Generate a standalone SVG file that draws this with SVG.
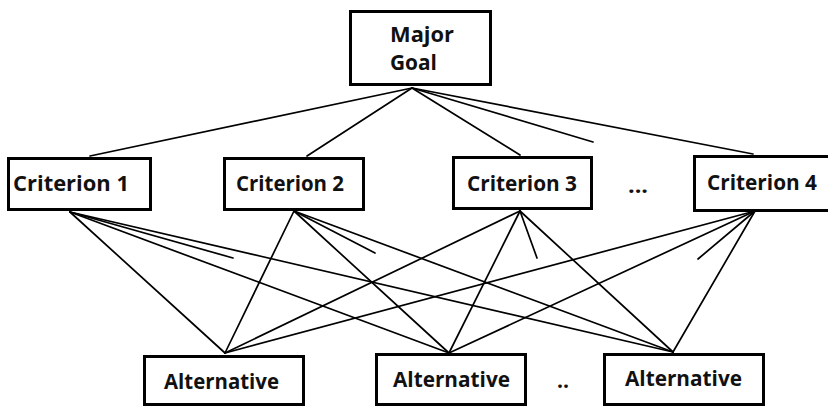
<svg xmlns="http://www.w3.org/2000/svg" width="828" height="407" viewBox="0 0 828 407">
  <style>
    .box { fill: #ffffff; stroke: #000000; stroke-width: 3; }
    .lbl { font-family: "Open Sans", "Liberation Sans", Arial, sans-serif; font-weight: bold; font-size: 21px; fill: #111111; }
    .edge { stroke: #000000; stroke-width: 1.7; fill: none; stroke-linecap: round; }
  </style>
  <rect width="828" height="407" fill="#ffffff"/>

  <!-- connectors -->
  <g id="connectors">
    <!-- goal to criteria -->
    <line class="edge" x1="412" y1="88" x2="90" y2="156"/>
    <line class="edge" x1="412" y1="88" x2="307" y2="156"/>
    <line class="edge" x1="412" y1="88" x2="520" y2="155"/>
    <line class="edge" x1="412" y1="88" x2="593" y2="142"/>
    <line class="edge" x1="412" y1="88" x2="753" y2="154"/>
    <!-- criterion 1 -->
    <line class="edge" x1="70" y1="212" x2="225" y2="353"/>
    <line class="edge" x1="70" y1="212" x2="233" y2="258"/>
    <line class="edge" x1="70" y1="212" x2="449" y2="353"/>
    <line class="edge" x1="70" y1="212" x2="673" y2="352"/>
    <!-- criterion 2 -->
    <line class="edge" x1="294" y1="211" x2="225" y2="353"/>
    <line class="edge" x1="294" y1="211" x2="449" y2="353"/>
    <line class="edge" x1="294" y1="211" x2="375" y2="253"/>
    <line class="edge" x1="294" y1="211" x2="673" y2="352"/>
    <!-- criterion 3 -->
    <line class="edge" x1="520" y1="211" x2="225" y2="353"/>
    <line class="edge" x1="520" y1="211" x2="449" y2="353"/>
    <line class="edge" x1="520" y1="211" x2="537" y2="258"/>
    <line class="edge" x1="520" y1="211" x2="673" y2="352"/>
    <!-- criterion 4 -->
    <line class="edge" x1="755" y1="211" x2="225" y2="353"/>
    <line class="edge" x1="755" y1="211" x2="449" y2="353"/>
    <line class="edge" x1="755" y1="211" x2="698" y2="259"/>
    <line class="edge" x1="755" y1="211" x2="673" y2="352"/>
  </g>

  <g id="goal">
    <rect class="box" x="350.5" y="11.5" width="140" height="73"/>
    <text class="lbl" x="390" y="42" textLength="64" lengthAdjust="spacingAndGlyphs">Major</text>
    <text class="lbl" x="390" y="70" textLength="47" lengthAdjust="spacingAndGlyphs">Goal</text>
  </g>

  <g id="criterion1">
    <rect class="box" x="8.5" y="158.5" width="142" height="51"/>
    <text class="lbl" x="13" y="191" textLength="116" lengthAdjust="spacingAndGlyphs">Criterion 1</text>
  </g>
  <g id="criterion2">
    <rect class="box" x="224.5" y="158.5" width="139" height="51"/>
    <text class="lbl" x="236" y="191" textLength="108" lengthAdjust="spacingAndGlyphs">Criterion 2</text>
  </g>
  <g id="criterion3">
    <rect class="box" x="453.5" y="157.5" width="138" height="51"/>
    <text class="lbl" x="467" y="191" textLength="110" lengthAdjust="spacingAndGlyphs">Criterion 3</text>
  </g>
  <g id="more-criteria">
    <text class="lbl" x="628" y="193" textLength="20" lengthAdjust="spacingAndGlyphs">...</text>
  </g>
  <g id="criterion4">
    <rect class="box" x="694.5" y="156.5" width="140" height="54"/>
    <text class="lbl" x="707" y="190" textLength="110" lengthAdjust="spacingAndGlyphs">Criterion 4</text>
  </g>

  <g id="alternative1">
    <rect class="box" x="144.5" y="356.5" width="159" height="48"/>
    <text class="lbl" x="164" y="389" textLength="115" lengthAdjust="spacingAndGlyphs">Alternative</text>
  </g>
  <g id="alternative2">
    <rect class="box" x="376.5" y="354.5" width="149" height="50"/>
    <text class="lbl" x="393" y="387" textLength="117" lengthAdjust="spacingAndGlyphs">Alternative</text>
  </g>
  <g id="more-alternatives">
    <text class="lbl" x="557" y="388" textLength="12" lengthAdjust="spacingAndGlyphs">..</text>
  </g>
  <g id="alternative3">
    <rect class="box" x="604.5" y="354.5" width="159" height="50"/>
    <text class="lbl" x="625" y="386" textLength="117" lengthAdjust="spacingAndGlyphs">Alternative</text>
  </g>
</svg>
